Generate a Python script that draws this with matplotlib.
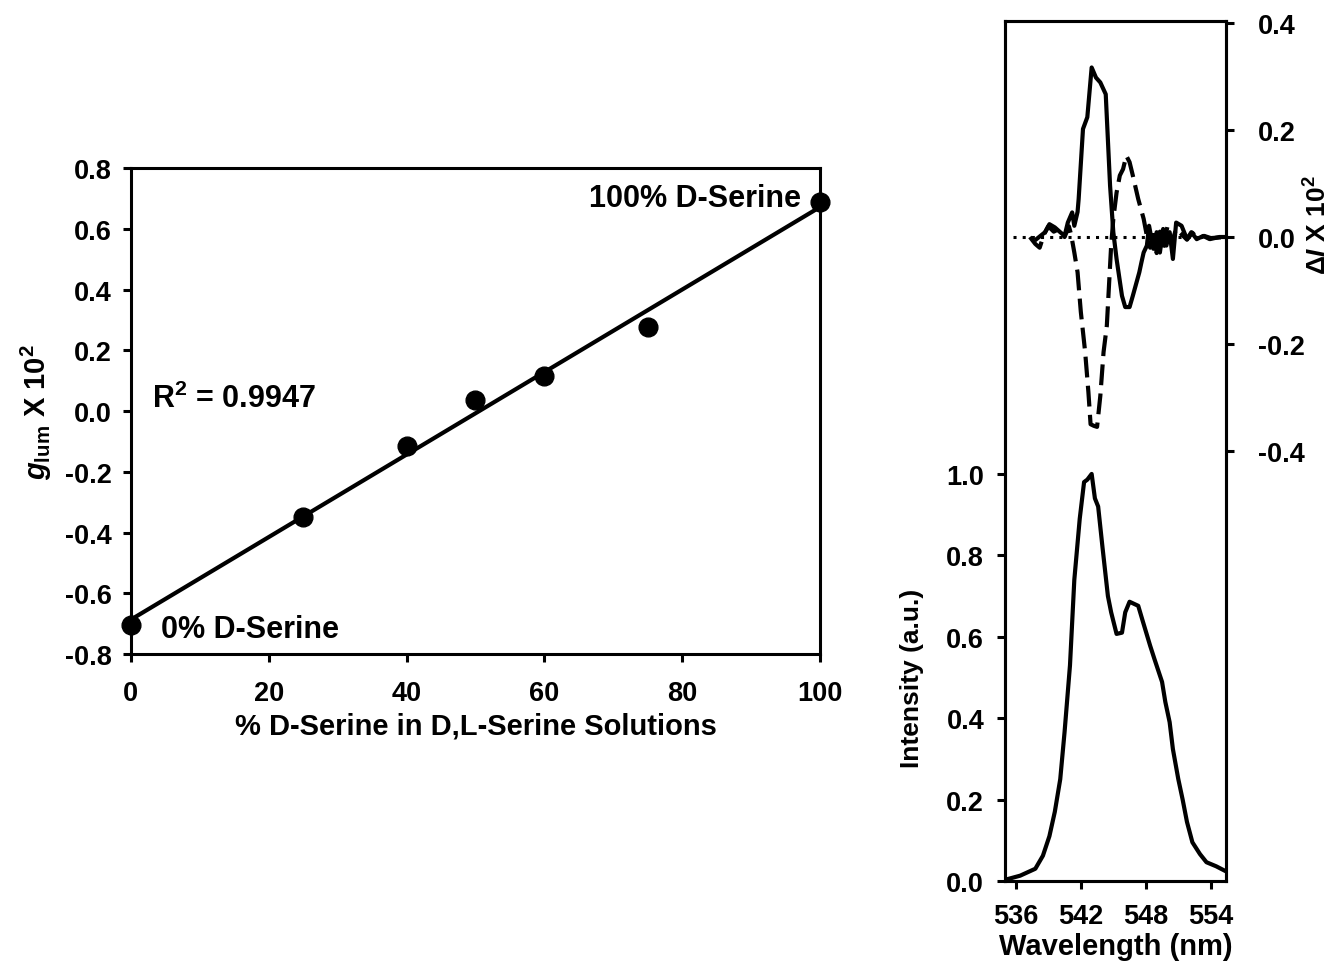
"""
Left: g_lum vs % D-serine with a linear fit.
Right: emission spectrum (bottom) and ΔI CPL traces (top) sharing one frame.
"""

import matplotlib
matplotlib.use("Agg")
import matplotlib.pyplot as plt
import numpy as np

plt.rcParams["font.family"] = ["Liberation Sans", "DejaVu Sans"]
plt.rcParams["font.weight"] = "bold"
plt.rcParams["axes.labelweight"] = "bold"
plt.rcParams["axes.unicode_minus"] = False
plt.rcParams["mathtext.fontset"] = "custom"
plt.rcParams["mathtext.rm"] = "Liberation Sans:bold"
plt.rcParams["mathtext.it"] = "Liberation Sans:italic:bold"
plt.rcParams["mathtext.bf"] = "Liberation Sans:bold"

# --- left panel data ---
pct_d = [0, 25, 40, 50, 60, 75, 100]
g_lum = [-0.705, -0.349, -0.115, 0.036, 0.115, 0.277, 0.688]
g_ticks = ["-0.8", "-0.6", "-0.4", "-0.2", "0.0", "0.2", "0.4", "0.6", "0.8"]

# --- right panel: emission spectrum ---
em_wl = [535.3, 536.4, 537.8, 538.5, 539.1, 539.6, 540.1, 540.5, 541.0, 541.4,
         541.9, 542.3, 542.6, 543.0, 543.3, 543.6, 544.0, 544.5, 544.8, 545.3,
         545.8, 546.1, 546.5, 547.3, 547.7, 548.4, 548.8, 549.5, 549.8, 550.2,
         550.5, 551.0, 551.4, 551.8, 552.3, 553.0, 553.6, 554.5, 555.3]
em_int = [0.005, 0.013, 0.03, 0.062, 0.11, 0.17, 0.25, 0.366, 0.53, 0.74,
          0.89, 0.98, 0.986, 1.0, 0.94, 0.92, 0.82, 0.70, 0.66, 0.607,
          0.61, 0.66, 0.686, 0.676, 0.64, 0.578, 0.545, 0.489, 0.44, 0.39,
          0.324, 0.25, 0.20, 0.145, 0.095, 0.066, 0.046, 0.036, 0.025]
int_ticks = ["0.0", "0.2", "0.4", "0.6", "0.8", "1.0"]

# --- right panel: ΔI traces ---
solid_wl = [537.9, 538.7, 539.1, 539.6, 540.1, 540.5, 540.8, 541.2, 541.4, 541.7,
            541.8, 542.2, 542.6, 543.0, 543.4, 543.8, 544.3, 544.7, 545.0, 545.3,
            545.8, 546.1, 546.5, 546.8, 547.4, 547.6, 547.8, 548.1, 548.3, 548.7,
            549.0, 549.3, 549.6, 549.9, 550.2, 550.5, 550.8, 551.3, 551.8, 552.2,
            552.7, 553.3, 553.9, 554.8, 555.4]
solid_di = [-0.004, 0.009, 0.024, 0.018, 0.009, 0.002, 0.027, 0.046, 0.021, 0.047,
            0.071, 0.202, 0.224, 0.317, 0.298, 0.289, 0.267, 0.096, 0.009, -0.041,
            -0.110, -0.131, -0.131, -0.110, -0.066, -0.047, -0.029, -0.016, 0.021, -0.022,
            0.009, -0.029, 0.015, -0.016, 0.009, -0.041, 0.027, 0.021, -0.004, 0.009,
            -0.004, 0.002, -0.004, 0.0, 0.0]

dash_wl = [537.3, 537.8, 538.2, 538.6, 539.0, 539.5, 540.0, 540.5, 540.9, 541.1,
           541.4, 541.7, 542.0, 542.4, 542.7, 542.9, 543.2, 543.5, 543.8, 544.1,
           544.4, 544.6, 544.8, 545.0, 545.3, 545.6, 545.9, 546.2, 546.5, 546.8,
           547.3, 547.8, 548.1, 548.4, 548.7, 549.0, 549.3, 549.6, 550.0, 550.4,
           550.8, 551.3, 551.8, 552.3, 552.8, 553.4, 554.0, 555.4]
dash_di = [0.0, -0.013, -0.02, 0.005, 0.02, 0.01, 0.015, 0.0, 0.02, 0.005,
           -0.029, -0.066, -0.140, -0.215, -0.29, -0.35, -0.353, -0.355, -0.297, -0.215,
           -0.166, -0.091, -0.016, 0.034, 0.083, 0.115, 0.127, 0.152, 0.14, 0.115,
           0.071, 0.034, 0.002, -0.02, 0.015, -0.03, 0.01, -0.02, 0.02, -0.01,
           0.015, 0.005, -0.005, 0.008, -0.003, 0.002, -0.002, 0.0]
di_ticks = ["-0.4", "-0.2", "0.0", "0.2", "0.4"]

TICK_FS = 19.5
LABEL_FS = 21
SPINE_W = 2.2
LINE_W = 3.0


def style_axes(ax):
    for sp in ax.spines.values():
        sp.set_linewidth(SPINE_W)
    ax.tick_params(direction="out", length=6, width=SPINE_W, labelsize=TICK_FS)


fig = plt.figure(figsize=(13.32, 9.62), dpi=100)

# ---------------- left panel ----------------
ax = fig.add_axes([0.0983, 0.3191, 0.5173, 0.5052])
slope, intercept = np.polyfit(pct_d, g_lum, 1)
xfit = np.array([0, 100])
ax.plot(xfit, slope * xfit + intercept, color="black", lw=LINE_W, clip_on=False)
ax.plot(pct_d, g_lum, "o", color="black", ms=13.5, clip_on=False, zorder=5)
ax.set_xlim(0, 100)
ax.set_ylim(-0.8, 0.8)
ax.set_xticks([0, 20, 40, 60, 80, 100])
ax.set_yticks([float(t) for t in g_ticks])
ax.set_yticklabels(g_ticks)
style_axes(ax)
ax.tick_params(axis="x", pad=13)
ax.tick_params(axis="y", pad=8)
ax.set_xlabel("% D-Serine in D,L-Serine Solutions", fontsize=LABEL_FS, labelpad=4)
ax.set_ylabel(r"$g_{\rm lum}$ X 10$^{2}$", fontsize=LABEL_FS, labelpad=8)
ax.text(3.0, 0.013, r"R$^{2}$ = 0.9947", fontsize=22)
ax.text(4.4, -0.744, "0% D-Serine", fontsize=22)
ax.text(97.2, 0.675, "100% D-Serine", fontsize=22, ha="right")

# ---------------- right panel ----------------
axr = fig.add_axes([0.7545, 0.0832, 0.1659, 0.894])
axr.plot(em_wl, em_int, color="black", lw=LINE_W)
axr.set_xlim(535, 555.4)
axr.set_ylim(0, 2.113)
axr.set_xticks([536, 542, 548, 554])
axr.set_yticks([float(t) for t in int_ticks])
axr.set_yticklabels(int_ticks)
style_axes(axr)
axr.tick_params(axis="x", pad=10)
axr.tick_params(axis="y", pad=9)
axr.set_xlabel("Wavelength (nm)", fontsize=LABEL_FS, labelpad=2)

ax2 = axr.twinx()
ax2.plot([535.7, 555.4], [0, 0], color="black", lw=2.2, linestyle=(0, (1, 2)))
ax2.plot(dash_wl, dash_di, color="black", lw=LINE_W, linestyle=(0, (5, 2)))
ax2.plot(solid_wl, solid_di, color="black", lw=LINE_W)
ax2.set_ylim(-1.204, 0.404)
ax2.set_yticks([float(t) for t in di_ticks])
ax2.set_yticklabels(di_ticks)
style_axes(ax2)
ax2.tick_params(axis="y", pad=17)

fig.text(0.6847, 0.295, "Intensity (a.u.)", rotation=90, fontsize=19,
         ha="center", va="center")
fig.text(0.9895, 0.766, r"$\mathit{\Delta I}$ X 10$^{2}$", rotation=90,
         fontsize=19, ha="center", va="center")

fig.savefig("out.png", dpi=100)
plt.close(fig)
